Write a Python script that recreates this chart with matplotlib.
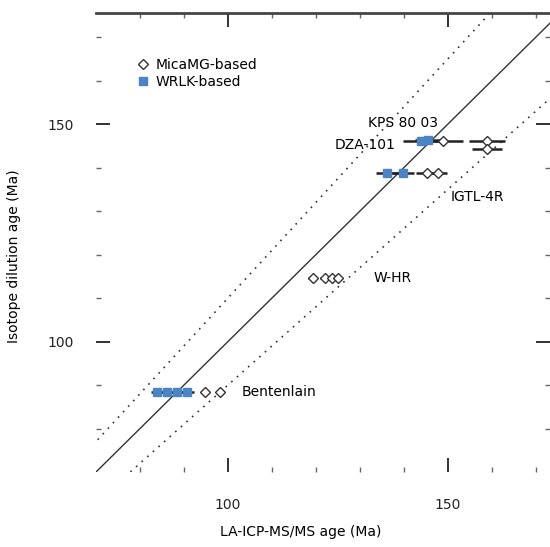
import numpy as np
import matplotlib
matplotlib.use("Agg")
import matplotlib.pyplot as plt

blue = '#4a84c4'

# sample ages, isotope dilution (y) vs LA-ICP-MS/MS (x)
mica_x = [148.9, 158.9, 158.9, 145.2, 147.7, 119.3, 122.0, 123.6, 125.0, 94.8, 98.2]
mica_y = [146.0, 146.2, 144.3, 138.8, 138.8, 114.7, 114.7, 114.7, 114.7, 88.3, 88.3]
mica_err = [4.5, 4.0, 3.5, 2.5, 2.0, 1.0, 1.0, 1.0, 1.0, 1.0, 1.0]

wrlk_x = [143.8, 145.5, 136.1, 139.8, 83.9, 86.1, 88.4, 90.7]
wrlk_y = [146.0, 146.3, 138.8, 138.8, 88.3, 88.3, 88.3, 88.3]
wrlk_err = [4.0, 3.0, 2.5, 2.5, 1.5, 1.5, 1.5, 1.5]

sample_names = ["KPS 80 03", "DZA-101", "IGTL-4R", "W-HR", "Bentenlain"]

fig = plt.figure(figsize=(5.5, 5.47), dpi=100)
ax = fig.add_axes([0.1745, 0.137, 0.8255, 0.839])

x_min, x_max = 70, 173.2
y_min, y_max = 70, 175.5
xx = np.array([60, 200])
ax.plot(xx, xx, color='#333333', lw=1.0)
ax.plot(xx, 1.1 * xx, color='#333333', lw=1.2, linestyle=(0, (1, 3.5)))
ax.plot(xx, 0.9 * xx, color='#333333', lw=1.2, linestyle=(0, (1, 3.5)))

ax.errorbar(mica_x, mica_y, xerr=mica_err, fmt='none', ecolor='#222222', elinewidth=1.8, capsize=0, zorder=2)
ax.errorbar(wrlk_x, wrlk_y, xerr=wrlk_err, fmt='none', ecolor='#222222', elinewidth=1.8, capsize=0, zorder=2)
ax.plot(mica_x, mica_y, 'D', ms=5, mfc='white', mec='#333333', mew=1.0, ls='none', label='MicaMG-based', zorder=3)
ax.plot(wrlk_x, wrlk_y, 's', ms=5.5, mfc=blue, mec=blue, ls='none', label='WRLK-based', zorder=4)

ax.text(147.7, 150.2, sample_names[0], ha='right', va='center', fontsize=10)
ax.text(138.0, 145.2, sample_names[1], ha='right', va='center', fontsize=10)
ax.text(150.5, 133.3, sample_names[2], ha='left', va='center', fontsize=10)
ax.text(133.0, 114.7, sample_names[3], ha='left', va='center', fontsize=10)
ax.text(103.2, 88.3, sample_names[4], ha='left', va='center', fontsize=10)

ax.set_xlim(x_min, x_max)
ax.set_ylim(y_min, y_max)

for s in ['left', 'right', 'bottom']:
    ax.spines[s].set_visible(False)
ax.spines['top'].set_color('#444444')
ax.spines['top'].set_linewidth(2)

ax.set_xticks([100, 150])
ax.set_yticks([100, 150])
ax.set_xticks(np.arange(80, 171, 10), minor=True)
ax.set_yticks(np.arange(80, 171, 10), minor=True)
ax.tick_params(which='both', direction='in', top=True, right=True)
ax.tick_params(which='major', length=10, width=1.3, labelsize=10, colors='#222222')
ax.tick_params(which='minor', length=3.5, width=1.0, colors='#666666')
ax.tick_params(axis='x', which='major', pad=19)
ax.tick_params(axis='y', which='major', pad=16)

ax.set_xlabel('LA-ICP-MS/MS age (Ma)', fontsize=10)
ax.set_ylabel('Isotope dilution age (Ma)', fontsize=10)
ax.xaxis.set_label_coords(0.45, -0.115)
ax.yaxis.set_label_coords(-0.165, 0.47)

ax.legend(loc='upper left', bbox_to_anchor=(0.06, 0.93), frameon=False,
          fontsize=10, handletextpad=0.4, labelspacing=0.25, handlelength=1.0)

plt.savefig("out.png", dpi=100)
